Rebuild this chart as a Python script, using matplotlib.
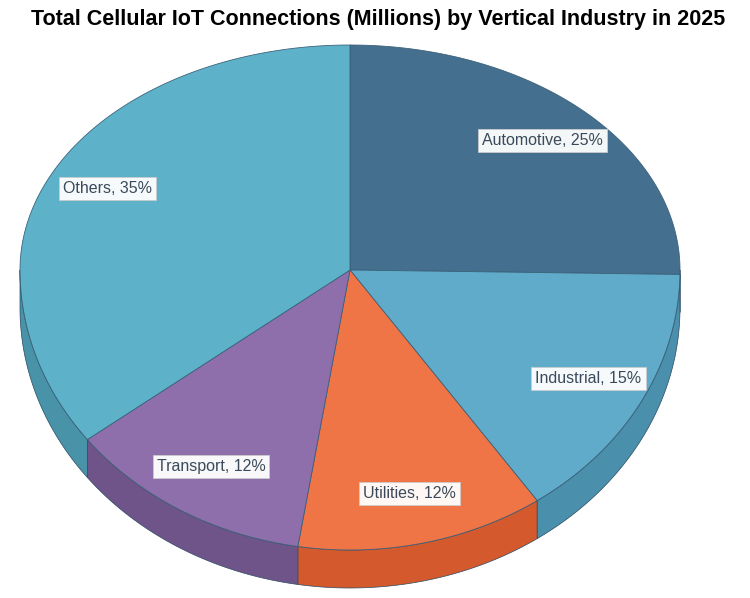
import numpy as np
import matplotlib
matplotlib.use("Agg")
import matplotlib.pyplot as plt
from matplotlib.patches import Polygon

categories = ["Automotive", "Industrial", "Utilities", "Transport", "Others"]
shares = [25, 15, 12, 12, 35]
colors = ["#3f6a8a", "#5aa8c8", "#f07040", "#8a6aa8", "#58b0c8"]
side_colors = ["#335872", "#4a8fab", "#d45a2e", "#6f548a", "#4893a8"]

cx, cy, rx, ry_top, ry_bot, depth = 350, 270, 330, 225, 280, 38

def pt(t):
    s, c = np.sin(t), np.cos(t)
    ry = ry_top if c > 0 else ry_bot
    return cx + rx * s, cy - ry * c

fig = plt.figure(figsize=(7.5, 5.98), dpi=100)
ax = fig.add_axes([0, 0, 1, 1])
ax.set_xlim(0, 750); ax.set_ylim(598, 0); ax.axis("off")

bounds = np.concatenate([[0], np.cumsum(shares)]) / sum(shares) * 2 * np.pi
for i in range(len(shares)):
    a0, a1 = max(bounds[i], np.pi/2), min(bounds[i+1], 3*np.pi/2)
    if a1 <= a0:
        continue
    ts = np.linspace(a0, a1, 80)
    top = [pt(t) for t in ts]
    bot = [(x, y + depth) for x, y in top[::-1]]
    ax.add_patch(Polygon(top + bot, closed=True, fc=side_colors[i], ec="#2b4a60", lw=0.5, zorder=1))
for i in range(len(shares)):
    ts = np.linspace(bounds[i], bounds[i+1], 120)
    poly = [(cx, cy)] + [pt(t) for t in ts]
    ax.add_patch(Polygon(poly, closed=True, fc=colors[i], ec="#3a6078", lw=0.6, alpha=0.97, zorder=2))
for i, name in enumerate(categories):
    m = (bounds[i] + bounds[i+1]) / 2
    s, c = np.sin(m), np.cos(m)
    ry = ry_top if c > 0 else ry_bot
    f = 0.82
    x, y = cx + rx * s * f, cy - ry * c * f
    ax.text(x, y, f"{name}, {shares[i]}%", ha="center", va="center", fontsize=11.5,
            family="Liberation Sans", color="#3a4a5a", zorder=5,
            bbox=dict(boxstyle="square,pad=0.25", fc="white", ec="#cccccc", lw=0.6, alpha=0.95))

ax.text(378, 20, "Total Cellular IoT Connections (Millions) by Vertical Industry in 2025",
        ha="center", va="center", fontsize=15.5, fontweight="bold", family="Liberation Sans", color="black")
fig.savefig("out.png", dpi=100)
